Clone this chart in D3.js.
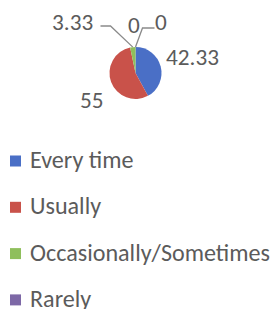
<!DOCTYPE html>
<html><head><meta charset="utf-8">
<script src="https://cdn.jsdelivr.net/npm/d3@7"></script>
<style>html,body{margin:0;padding:0;background:#fff;}svg{display:block;}</style>
</head><body>
<script>
const categories = ["Every time", "Usually", "Occasionally/Sometimes", "Rarely", "Never"];
const values = [42.33, 55, 3.33, 0, 0];
const labels = ["42.33", "55", "3.33", "0", "0"];
const colors = ["#4a6fc6", "#c9524a", "#8fbf5c", "#7d68a6", "#4bacc6"];

const W = 274, H = 309;
const svg = d3.select("body").append("svg").attr("width", W).attr("height", H);
svg.append("rect").attr("width", W).attr("height", H).attr("fill", "#fff");

const font = "Calibri, Carlito, Lato, sans-serif";
const textColor = "#5b5b5b";

// measure helper for font sizing
function fitSize(str, targetW, base) {
  const t = svg.append("text").attr("font-family", font).attr("font-size", base).text(str);
  const w = t.node().getComputedTextLength();
  t.remove();
  return base * targetW / w;
}
const legendFs = fitSize("Occasionally/Sometimes", 240, 20);
const labelFs = fitSize("42.33", 53, 20);

const cx = 135.5, cy = 73, r = 26;
const pie = d3.pie().sort(null).value(d => d).startAngle(0).endAngle(2 * Math.PI);
const arcs = pie(values);
const arc = d3.arc().innerRadius(0).outerRadius(r);
const g = svg.append("g").attr("transform", `translate(${cx},${cy})`);
g.selectAll("path").data(arcs).enter().append("path")
  .attr("d", arc).attr("fill", (d, i) => colors[i]);

// label placement (offsets relative to pie centre)
const labelPos = [
  {x: 30.5, y: -8, anchor: "start"},
  {x: -55.5, y: 35, anchor: "start"},
  {x: -83.5, y: -43, anchor: "start"},
  {x: -7.5, y: -40, anchor: "start"},
  {x: 19.5, y: -43, anchor: "start"}
];
// leader lines for small slices (elbow points relative to centre)
const leaders = {
  2: [[-35, -47], [-25, -47]],
  4: [[19, -45], [7, -45]]
};
const lineG = svg.append("g").attr("transform", `translate(${cx},${cy})`);
Object.keys(leaders).forEach(k => {
  const i = +k, a = arcs[i];
  const mid = (a.startAngle + a.endAngle) / 2;
  const edge = [Math.sin(mid) * r, -Math.cos(mid) * r];
  const pts = leaders[k].concat([edge]);
  lineG.append("path").attr("d", d3.line()(pts))
    .attr("fill", "none").attr("stroke", "#8a8a8a").attr("stroke-width", 1.3);
});
const lg = svg.append("g").attr("transform", `translate(${cx},${cy})`);
labels.forEach((t, i) => {
  lg.append("text").attr("x", labelPos[i].x).attr("y", labelPos[i].y)
    .attr("text-anchor", labelPos[i].anchor)
    .attr("font-family", font).attr("font-size", labelFs)
    .attr("fill", textColor).text(t);
});

// legend
const ly = d3.scalePoint().domain(categories).range([161, 161 + 46.3 * 4]);
const leg = svg.append("g");
categories.forEach((c, i) => {
  const y = ly(c);
  leg.append("rect").attr("x", 10).attr("y", y - 5.5).attr("width", 11).attr("height", 11)
    .attr("fill", colors[i]);
  leg.append("text").attr("x", 30).attr("y", y + 7)
    .attr("font-family", font).attr("font-size", legendFs)
    .attr("fill", textColor).text(c);
});
</script>
</body></html>
